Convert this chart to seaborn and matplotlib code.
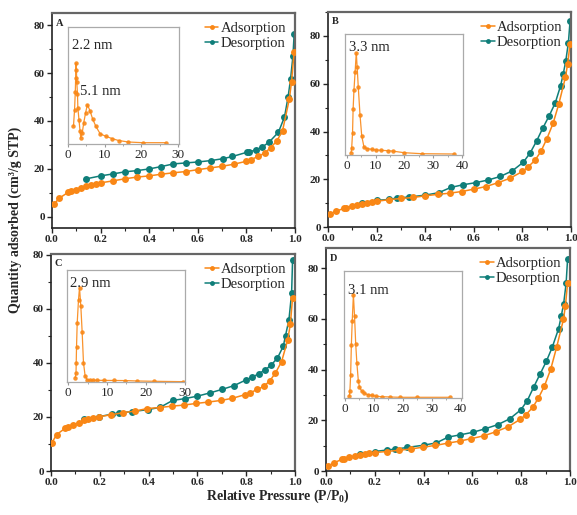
#	N2 Sorption Isotherms with Pore Size Distribution Insets

#Import Necessary Libraries
import pandas as pd
import seaborn as sns
from matplotlib import pyplot as plt
from matplotlib.ticker import MultipleLocator

#Data Creation - panel A
a_ads_p = [0.008, 0.03, 0.066, 0.077, 0.098, 0.12, 0.14, 0.16, 0.18, 0.2, 0.25, 0.3, 0.35, 0.4, 0.45, 0.5, 0.55,
           0.6, 0.65, 0.7, 0.75, 0.8, 0.82, 0.85, 0.877, 0.9, 0.925, 0.949, 0.977, 0.986, 0.997]
a_ads_q = [5.3, 7.8, 10.2, 10.7, 11.4, 12.1, 12.7, 13.2, 13.8, 14.2, 15.0, 15.9, 16.6, 17.1, 17.8, 18.4, 18.9,
           19.7, 20.4, 21.1, 22.0, 23.2, 23.9, 25.3, 26.7, 28.9, 31.6, 35.9, 49.1, 56.3, 68.8]
a_des_p = [0.142, 0.2, 0.25, 0.3, 0.35, 0.4, 0.45, 0.5, 0.55, 0.6, 0.655, 0.705, 0.743, 0.804, 0.81, 0.84,
           0.865, 0.894, 0.932, 0.957, 0.972, 0.982, 0.992, 0.997]
a_des_q = [15.9, 17.1, 17.9, 18.8, 19.3, 20.0, 21.0, 22.1, 22.5, 22.9, 23.5, 24.3, 25.2, 27.0, 27.0, 28.0,
           29.1, 31.2, 35.3, 41.6, 50.1, 57.4, 67.2, 76.5]
a_psd_d = [1.5, 1.8, 2.0, 2.1, 2.2, 2.3, 2.4, 2.6, 2.7, 3.0, 3.3, 3.5, 3.9, 4.3, 4.8, 5.3, 6.0, 6.7, 7.6, 8.8,
           10.3, 12.0, 13.8, 16.5, 20.4, 26.7]
a_psd_v = [17.3, 34, 52, 65.7, 80.7, 74, 62, 49.7, 35.7, 24, 12.3, 5.7, 10.7, 20.7, 30.7, 39, 33, 25, 17.3, 9.7,
           7.3, 5, 3, 1.5, 0.8, 0.8]

#Data Creation - panel B
b_ads_p = [0.008, 0.032, 0.066, 0.076, 0.097, 0.119, 0.139, 0.16, 0.181, 0.2, 0.251, 0.302, 0.35, 0.4, 0.451,
           0.5, 0.55, 0.6, 0.65, 0.7, 0.75, 0.8, 0.822, 0.851, 0.876, 0.9, 0.926, 0.95, 0.977, 0.986, 0.996]
b_ads_q = [5.4, 6.7, 7.8, 8.2, 8.8, 9.4, 9.6, 10.1, 10.5, 10.8, 11.5, 12.0, 12.4, 13.1, 13.7, 14.2, 14.9, 15.9,
           17.0, 18.6, 20.5, 23.3, 25.1, 27.9, 31.7, 36.9, 43.4, 51.7, 62.8, 68.4, 76.8]
b_des_p = [0.141, 0.201, 0.252, 0.284, 0.335, 0.401, 0.455, 0.505, 0.554, 0.607, 0.658, 0.709, 0.759, 0.804,
           0.832, 0.858, 0.883, 0.909, 0.935, 0.957, 0.968, 0.978, 0.989, 0.996]
b_des_q = [10.2, 11.2, 11.6, 12.2, 12.6, 13.4, 14.4, 16.6, 17.7, 18.6, 19.7, 21.2, 23.6, 27.2, 31.1, 36.0, 41.3,
           46.4, 52.0, 59.2, 64.2, 69.4, 77.2, 86.3]
b_psd_d = [1.5, 1.7, 2.0, 2.2, 2.5, 2.9, 3.3, 3.6, 4.0, 4.6, 5.2, 6.0, 7.2, 8.7, 10.3, 12.0, 14.4, 16.2, 20.0,
           26.1, 37.4]
b_psd_v = [2.3, 6.7, 21.7, 45.7, 65, 83.3, 102.3, 88.3, 67.7, 40, 19, 7.7, 6.3, 5.7, 5, 4.7, 4.3, 3.8, 2.3,
           1.3, 1.0]

#Data Creation - panel C
c_ads_p = [0.004, 0.023, 0.058, 0.069, 0.09, 0.113, 0.134, 0.152, 0.172, 0.196, 0.246, 0.297, 0.346, 0.393,
           0.446, 0.495, 0.545, 0.594, 0.643, 0.695, 0.743, 0.793, 0.815, 0.846, 0.872, 0.897, 0.92, 0.945,
           0.97, 0.981, 0.99]
c_ads_q = [10.5, 13.5, 15.8, 16.3, 17.2, 17.8, 18.7, 19.3, 19.7, 20.1, 20.8, 21.6, 22.2, 23.1, 23.5, 24.0, 24.4,
           25.0, 25.5, 26.1, 26.9, 28.2, 28.9, 30.2, 31.3, 33.4, 36.3, 40.5, 48.5, 54.4, 64.2]
c_des_p = [0.135, 0.196, 0.248, 0.279, 0.332, 0.397, 0.448, 0.498, 0.549, 0.6, 0.651, 0.701, 0.75, 0.799,
           0.825, 0.851, 0.879, 0.902, 0.928, 0.952, 0.961, 0.975, 0.986, 0.99]
c_des_q = [19.2, 20.1, 21.0, 21.5, 22.0, 22.7, 23.6, 26.1, 26.8, 27.7, 28.9, 30.2, 31.6, 33.7, 34.7, 36.0, 37.5,
           39.2, 41.8, 46.2, 50.1, 55.9, 65.8, 78.1]
c_psd_d = [1.8, 2.0, 2.05, 2.13, 2.3, 2.64, 2.9, 3.24, 3.58, 3.92, 4.35, 4.86, 5.54, 6.4, 7.5, 9.2, 11.9, 14.7,
           17.7, 22.0, 29.6]
c_psd_v = [4.3, 9.3, 19.3, 35, 58.7, 82.3, 94.3, 75.7, 50, 19.3, 6, 2.3, 1.7, 1.7, 1.7, 1.6, 1.5, 1.4, 1.0,
           0.7, 0.3]

#Data Creation - panel D
d_ads_p = [0.01, 0.033, 0.066, 0.075, 0.096, 0.118, 0.14, 0.159, 0.178, 0.2, 0.25, 0.3, 0.348, 0.397, 0.448,
           0.499, 0.548, 0.596, 0.647, 0.696, 0.747, 0.796, 0.818, 0.847, 0.87, 0.895, 0.921, 0.945, 0.973,
           0.981, 0.99]
d_ads_q = [2.0, 3.3, 4.6, 4.9, 5.4, 6.0, 6.3, 6.7, 7.0, 7.3, 7.7, 8.2, 8.7, 9.4, 10.1, 11.0, 11.8, 12.8, 13.9,
           15.5, 17.5, 20.4, 22.1, 25.1, 28.7, 33.5, 40.2, 48.8, 59.8, 65.1, 74.1]
d_des_p = [0.14, 0.2, 0.25, 0.282, 0.333, 0.4, 0.452, 0.501, 0.551, 0.603, 0.653, 0.704, 0.753, 0.799, 0.825,
           0.851, 0.877, 0.903, 0.927, 0.953, 0.964, 0.974, 0.984, 0.99]
d_des_q = [6.9, 7.7, 8.3, 8.6, 9.3, 10.2, 11.1, 13.4, 14.3, 15.3, 16.7, 18.3, 20.6, 24.2, 27.8, 33.1, 38.2, 43.3,
           48.8, 56.1, 61.1, 66.1, 74.1, 83.5]
d_psd_d = [1.5, 1.7, 1.95, 2.2, 2.5, 2.9, 3.3, 3.7, 4.1, 4.6, 5.0, 5.7, 6.6, 7.8, 9.3, 10.8, 12.7, 15.5, 19.0,
           25.0, 36.2]
d_psd_v = [1.7, 7.3, 23.3, 53.3, 77.3, 103.3, 81.7, 54, 35, 17.3, 10.7, 7.3, 5, 3.3, 2.7, 1.7, 1.3, 1.0, 0.7,
           0.7, 0.7]

panels = [
    dict(name='A', ads=(a_ads_p, a_ads_q), des=(a_des_p, a_des_q), psd=(a_psd_d, a_psd_v), peaks=['2.2 nm', '5.1 nm'],
         ylim=(-4.7, 85), pos=[0.0901, 0.557, 0.421, 0.4175], ipos=[0.1178, 0.7204, 0.1924, 0.2272],
         ixlim=(0, 30.3), iylim=(-0.5, 117), ixstep=10, lab=[(0.035, 0.90), (0.11, 0.50)]),
    dict(name='B', ads=(b_ads_p, b_ads_q), des=(b_des_p, b_des_q), psd=(b_psd_d, b_psd_v), peaks=['3.3 nm'],
         ylim=(0, 90), pos=[0.5685, 0.559, 0.4212, 0.4175], ipos=[0.598, 0.699, 0.2045, 0.235],
         ixlim=(-0.6, 40.4), iylim=(0, 121), ixstep=10, lab=[(0.03, 0.945)]),
    dict(name='C', ads=(c_ads_p, c_ads_q), des=(c_des_p, c_des_q), psd=(c_psd_d, c_psd_v), peaks=['2.9 nm'],
         ylim=(0, 80.3), pos=[0.0884, 0.0854, 0.4229, 0.4214], ipos=[0.1161, 0.2583, 0.2045, 0.2175],
         ixlim=(-0.33, 30.1), iylim=(0, 112), ixstep=10, lab=[(0.025, 0.94)]),
    dict(name='D', ads=(d_ads_p, d_ads_q), des=(d_des_p, d_des_q), psd=(d_psd_d, d_psd_v), peaks=['3.1 nm'],
         ylim=(0, 88), pos=[0.565, 0.0854, 0.4229, 0.433], ipos=[0.5962, 0.2272, 0.2045, 0.2466],
         ixlim=(-0.34, 40.4), iylim=(0, 127), ixstep=10, lab=[(0.03, 0.90)]),
]

orange = '#F98716'
teal = '#0F7E79'

#Style
sns.set_style('ticks')
plt.rcParams['font.family'] = ['Liberation Serif', 'DejaVu Serif']
plt.rcParams['mathtext.fontset'] = 'custom'
plt.rcParams['mathtext.rm'] = 'Liberation Serif:bold'
plt.rcParams['mathtext.bf'] = 'Liberation Serif:bold'

fig = plt.figure(figsize=(5.77, 5.15), dpi=100)

for p in panels:
    ax = fig.add_axes(p['pos'])
    ads = pd.DataFrame({'P': p['ads'][0], 'Q': p['ads'][1]})
    des = pd.DataFrame({'P': p['des'][0], 'Q': p['des'][1]})
    sns.lineplot(data=ads, x='P', y='Q', ax=ax, color=orange, marker='o', markersize=5, markeredgewidth=0,
                 linewidth=1.1, label='Adsorption', zorder=3)
    sns.lineplot(data=des, x='P', y='Q', ax=ax, color=teal, marker='o', markersize=5, markeredgewidth=0,
                 linewidth=1.1, label='Desorption', zorder=2)
    ax.set_xlim(0, 1.0)
    ax.set_ylim(*p['ylim'])
    ax.xaxis.set_minor_locator(MultipleLocator(0.1))
    ax.yaxis.set_major_locator(MultipleLocator(20))
    ax.yaxis.set_minor_locator(MultipleLocator(10))
    ax.set_xticks([0, 0.2, 0.4, 0.6, 0.8, 1.0], ['0.0', '0.2', '0.4', '0.6', '0.8', '1.0'])
    ax.tick_params(which='major', direction='out', length=3.5, width=1, labelsize=8, pad=1.5)
    ax.tick_params(which='minor', direction='out', length=2, width=0.8)
    for lbl in ax.get_xticklabels() + ax.get_yticklabels():
        lbl.set_fontweight('bold')
    ax.set_xlabel('')
    ax.set_ylabel('')
    for side in ['left', 'bottom']:
        ax.spines[side].set_color('#222222')
        ax.spines[side].set_linewidth(1.2)
    for side in ['top', 'right']:
        ax.spines[side].set_visible(True)
        ax.spines[side].set_color('#666666')
        ax.spines[side].set_linewidth(1.6)
    ax.legend(loc='upper right', frameon=False, fontsize=10.5, handlelength=0.9, handletextpad=0.15,
              labelspacing=0.15, borderaxespad=0.2, markerscale=0.7)
    ax.text(0.015, 0.975, p['name'], transform=ax.transAxes, ha='left', va='top', fontsize=7.5, fontweight='bold')

    #Inset pore size distribution
    axin = fig.add_axes(p['ipos'])
    psd = pd.DataFrame({'D': p['psd'][0], 'V': p['psd'][1]})
    sns.lineplot(data=psd, x='D', y='V', ax=axin, color=orange, marker='o', markersize=3.2, markeredgewidth=0,
                 linewidth=0.9, alpha=0.9)
    axin.set_xlim(*p['ixlim'])
    axin.set_ylim(*p['iylim'])
    axin.xaxis.set_major_locator(MultipleLocator(p['ixstep']))
    axin.xaxis.set_minor_locator(MultipleLocator(p['ixstep'] / 2))
    axin.set_yticks([])
    axin.set_xlabel('')
    axin.set_ylabel('')
    axin.tick_params(which='major', direction='out', length=2.5, width=0.8, color='#999999', labelsize=9.5, pad=1)
    axin.tick_params(which='minor', direction='out', length=1.5, width=0.6, color='#999999')
    for side in axin.spines:
        axin.spines[side].set_visible(True)
        axin.spines[side].set_color('#aaaaaa')
        axin.spines[side].set_linewidth(0.9)
    for txt, (tx, ty) in zip(p['peaks'], p['lab']):
        axin.text(tx, ty, txt, transform=axin.transAxes, ha='left', va='top', fontsize=10.5)

#Shared axis labels
fig.text(0.027, 0.573, 'Quantity adsorbed (cm\u00b3/g STP)', rotation=90, ha='center', va='center',
         fontsize=10, fontweight='bold')
fig.text(0.482, 0.036, r'Relative Pressure (P/P$_\mathbf{0}$)', ha='center', va='center', fontsize=10,
         fontweight='bold')

#Save Plot
fig.savefig('out.png', dpi=100)
